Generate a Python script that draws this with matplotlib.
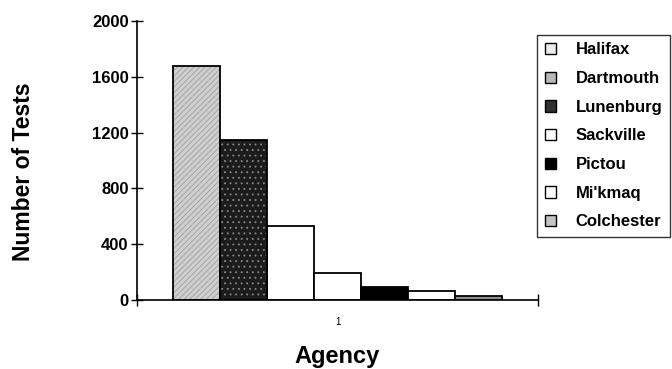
import matplotlib
matplotlib.use("Agg")
import matplotlib.pyplot as plt
from matplotlib.patches import Patch
import numpy as np

plt.rcParams['font.family'] = ['Liberation Sans', 'DejaVu Sans']

categories = ["1"]
agencies = ["Halifax", "Dartmouth", "Lunenburg", "Sackville", "Pictou", "Mi'kmaq", "Colchester"]
values = [1680, 1150, 530, 195, 90, 62, 28]

# bar appearance as drawn in the reference
bar_faces = ["#cfcfcf", "#1c1c1c", "white", "white", "black", "white", "#8f8f8f"]
bar_hatch = ["//////", "...", None, None, None, None, "...."]
bar_hatch_col = ["#a0a0a0", "#8a8a8a", None, None, None, None, "#d0d0d0"]
# legend swatch appearance as drawn in the reference
legend_faces = ["#ececec", "#b8b8b8", "#303030", "white", "black", "white", "#c4c4c4"]

fig = plt.figure(figsize=(6.72, 3.69), dpi=100)
ax = fig.add_axes([137/672, 69/369, (538-137)/672, (300-21)/369])

plt.rcParams['hatch.linewidth'] = 0.6
n = len(agencies)
group = 0.821
w = group / n
x0 = 1 - group / 2 + w / 2
for i, (v, fc) in enumerate(zip(values, bar_faces)):
    xpos = x0 + i * w
    if bar_hatch[i]:
        ax.bar(xpos, v, width=w, color=fc, hatch=bar_hatch[i],
               edgecolor=bar_hatch_col[i], linewidth=0, zorder=2)
        ax.bar(xpos, v, width=w, fill=False, edgecolor='black', linewidth=1.3, zorder=3)
    else:
        ax.bar(xpos, v, width=w, color=fc, edgecolor='black', linewidth=1.3, zorder=2)

ax.set_xlim(0.5, 1.5)
ax.set_ylim(0, 2000)
ax.set_yticks([0, 400, 800, 1200, 1600, 2000])
ax.tick_params(axis='y', direction='inout', length=8, width=1, labelsize=12, pad=2)
for lab in ax.get_yticklabels():
    lab.set_fontweight('bold')

ax.set_xticks([0.5, 1.5])
ax.set_xticklabels(["", ""])
ax.tick_params(axis='x', which='major', direction='inout', length=8, width=1)
ax.set_xticks([1], minor=True)
ax.set_xticklabels(categories, minor=True, fontsize=7)
ax.tick_params(axis='x', which='minor', length=0, pad=12)

for s in ['top', 'right']:
    ax.spines[s].set_visible(False)
ax.spines['left'].set_linewidth(1.2)
ax.spines['bottom'].set_linewidth(1.2)

ax.set_ylabel("Number of Tests", fontsize=16.5, fontweight='bold')
ax.yaxis.set_label_coords(-(137 - 24) / (538 - 137), (300 - 172) / (300 - 21))
ax.set_xlabel("Agency", fontsize=17, fontweight='bold')
ax.xaxis.set_label_coords(0.5, -(357 - 300) / (300 - 21))
ax.xaxis.label.set_va('center')
ax.yaxis.label.set_va('center')

handles = [Patch(facecolor=fc, edgecolor='black', linewidth=1.0) for fc in legend_faces]
leg = fig.legend(handles, agencies, loc='upper left', bbox_to_anchor=(537/672, 1 - 35/369),
                 prop={'weight': 'bold', 'size': 12},
                 handlelength=0.66, handleheight=0.66, handletextpad=1.2,
                 labelspacing=0.82, borderpad=0.45, frameon=True, fancybox=False,
                 edgecolor='black', borderaxespad=0)
leg.get_frame().set_linewidth(1.0)

fig.savefig("out.png", dpi=100)
